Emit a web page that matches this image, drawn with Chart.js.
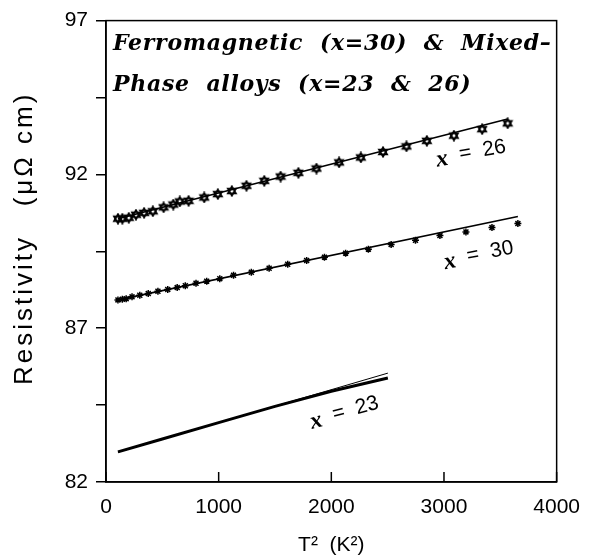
<!DOCTYPE html>
<html>
<head>
<meta charset="utf-8">
<script src="https://cdn.jsdelivr.net/npm/chart.js@4.4.0/dist/chart.umd.min.js"></script>
<style>
  html, body { margin: 0; padding: 0; background: #fff; }
</style>
</head>
<body>
<canvas id="chart" width="593" height="556"></canvas>
<script>
// --- dane ---
// x = 26 (gwiazdki otwarte)
const t2Alloy26  = [106, 145, 202, 266, 338, 416, 511, 597, 655, 733, 872, 993, 1117, 1247, 1405, 1550, 1708, 1868, 2069, 2262, 2459, 2667, 2848, 3088, 3339, 3565];
const rhoAlloy26 = [90.56, 90.56, 90.59, 90.69, 90.75, 90.80, 90.93, 91.02, 91.12, 91.14, 91.25, 91.36, 91.46, 91.63, 91.79, 91.93, 92.05, 92.19, 92.39, 92.55, 92.73, 92.91, 93.09, 93.26, 93.47, 93.66];
const t2Fit26  = [106, 3565];
const rhoFit26 = [90.56, 93.80];

// x = 30 (gwiazdki)
const t2Alloy30  = [106, 145, 179, 231, 300, 375, 461, 548, 632, 704, 799, 894, 1010, 1132, 1290, 1448, 1613, 1781, 1939, 2127, 2329, 2531, 2747, 2964, 3195, 3426, 3656];
const rhoAlloy30 = [87.92, 87.94, 87.96, 88.02, 88.07, 88.13, 88.20, 88.26, 88.32, 88.38, 88.46, 88.53, 88.61, 88.72, 88.82, 88.95, 89.08, 89.20, 89.31, 89.44, 89.57, 89.72, 89.86, 90.01, 90.13, 90.27, 90.40];
const t2Fit30  = [106, 3656];
const rhoFit30 = [87.92, 90.63];

// x = 23 (gruba krzywa + cienka prosta)
const t2Alloy23  = [106, 500, 1000, 1500, 2000, 2502];
const rhoAlloy23 = [82.98, 83.40, 83.93, 84.46, 84.95, 85.38];
const t2Fit23  = [106, 2502];
const rhoFit23 = [82.97, 85.54];

// osie
const xTicks = [0, 1000, 2000, 3000, 4000];
const yTickLabels = [82, 87, 92, 97];

// podpisy krzywych: [tekst liczby, T2, rho, kat]
const curveLabels = [
  ['26', 3238, 92.71, -10],
  ['30', 3307, 89.40, -11],
  ['23', 2113, 84.28, -15]
];

const titleLines = ['Ferromagnetic  (x=30)  &  Mixed\u2013', 'Phase  alloys  (x=23  &  26)'];

const toXY = (xs, ys) => xs.map((x, i) => ({ x: x, y: ys[i] }));

// --- znacznik: heksagram ---
function makeHexagram() {
  const c = document.createElement('canvas');
  c.width = 12; c.height = 12;
  const g = c.getContext('2d');
  g.strokeStyle = '#000';
  g.lineWidth = 1.8;
  const r = 4.6, cx = 6, cy = 6;
  [ -Math.PI / 2, Math.PI / 2 ].forEach(a0 => {
    g.beginPath();
    for (let k = 0; k < 3; k++) {
      const a = a0 + k * 2 * Math.PI / 3;
      const px = cx + r * Math.cos(a), py = cy + r * Math.sin(a);
      if (k === 0) g.moveTo(px, py); else g.lineTo(px, py);
    }
    g.closePath();
    g.stroke();
  });
  return c;
}

// --- rysowanie dodatkow ---
const extrasPlugin = {
  id: 'extras',
  afterDraw(chart) {
    const { ctx, chartArea: a, scales } = chart;
    ctx.save();
    // ramka
    ctx.strokeStyle = '#000';
    ctx.lineWidth = 1.5;
    ctx.strokeRect(a.left, a.top, a.right - a.left, a.bottom - a.top);

    // znaczniki osi X do wewnatrz
    xTicks.forEach(v => {
      const px = scales.x.getPixelForValue(v);
      ctx.beginPath();
      ctx.moveTo(px, a.bottom);
      ctx.lineTo(px, a.bottom - 10);
      ctx.stroke();
    });

    // tytul w obszarze wykresu
    ctx.fillStyle = '#000';
    ctx.font = 'bold italic 22px "DejaVu Serif"';
    ctx.letterSpacing = '0.7px';
    ctx.textAlign = 'left';
    ctx.textBaseline = 'alphabetic';
    ctx.fillText(titleLines[0], a.left + 7, 50);
    ctx.fillText(titleLines[1], a.left + 7, 91);
    ctx.letterSpacing = '0px';

    // tytul osi Y
    ctx.save();
    ctx.translate(25, 0);
    ctx.rotate(-Math.PI / 2);
    ctx.font = '26px "Liberation Sans"';
    ctx.letterSpacing = '3px';
    ctx.textAlign = 'center';
    ctx.textBaseline = 'middle';
    ctx.fillText('Resistivity', -310, 0);
    ctx.fillText('(\u03bc\u03a9 cm)', -149, 0);
    ctx.restore();

    // podpisy krzywych
    curveLabels.forEach(([num, t2, rho, ang]) => {
      const cx = scales.x.getPixelForValue(t2);
      const cy = scales.y.getPixelForValue(rho);
      ctx.save();
      ctx.translate(cx, cy);
      ctx.rotate(ang * Math.PI / 180);
      ctx.textBaseline = 'middle';
      ctx.textAlign = 'left';
      ctx.font = 'bold italic 24px "Liberation Serif"';
      const wx = ctx.measureText('x').width;
      ctx.font = '21px "Liberation Sans"';
      const rest = '  =  ' + num;
      const wr = ctx.measureText(rest).width;
      const x0 = -(wx + wr) / 2;
      ctx.font = 'bold italic 24px "Liberation Serif"';
      ctx.fillText('x', x0, 2);
      ctx.font = '21px "Liberation Sans"';
      ctx.fillText(rest, x0 + wx, 0);
      ctx.restore();
    });
    ctx.restore();
  }
};

const hexagram = makeHexagram();

new Chart(document.getElementById('chart'), {
  type: 'scatter',
  data: {
    datasets: [
      { label: 'x=26 fit', data: toXY(t2Fit26, rhoFit26), showLine: true, borderColor: '#000', borderWidth: 1.6, pointRadius: 0 },
      { label: 'x=26', data: toXY(t2Alloy26, rhoAlloy26), pointStyle: hexagram, pointRadius: 6 },
      { label: 'x=30 fit', data: toXY(t2Fit30, rhoFit30), showLine: true, borderColor: '#000', borderWidth: 1.6, pointRadius: 0 },
      { label: 'x=30', data: toXY(t2Alloy30, rhoAlloy30), pointStyle: 'star', pointRadius: 3.5, borderColor: '#000', borderWidth: 1.5 },
      { label: 'x=23', data: toXY(t2Alloy23, rhoAlloy23), showLine: true, borderColor: '#000', borderWidth: 3, pointRadius: 0 },
      { label: 'x=23 fit', data: toXY(t2Fit23, rhoFit23), showLine: true, borderColor: '#000', borderWidth: 1, pointRadius: 0 }
    ]
  },
  options: {
    responsive: false,
    animation: false,
    devicePixelRatio: 1,
    layout: { padding: { top: 14, right: 25, left: 0, bottom: 0 }, autoPadding: false },
    plugins: { legend: { display: false }, tooltip: { enabled: false } },
    scales: {
      x: {
        type: 'linear',
        min: 0, max: 4000,
        afterFit: s => { s.height = 74; },
        afterBuildTicks: s => { s.ticks = xTicks.map(v => ({ value: v })); },
        grid: { drawOnChartArea: false, drawTicks: false },
        border: { color: '#000', width: 1.5 },
        ticks: {
          color: '#000', padding: 13, maxRotation: 0, autoSkip: false,
          font: { family: '"Liberation Sans"', size: 21 },
          callback: v => String(v)
        },
        title: { display: true, text: 'T\u00b2  (K\u00b2)', color: '#000', align: 'center', font: { family: '"Liberation Sans"', size: 21, lineHeight: 1 }, padding: { top: 0, bottom: 0 } }
      },
      y: {
        type: 'linear',
        min: 82, max: 97,
        afterFit: s => { s.width = 106; },
        ticks: {
          stepSize: 2.5, color: '#000', padding: 8,
          font: { family: '"Liberation Sans"', size: 21 },
          callback: v => yTickLabels.includes(v) ? String(v) : ''
        },
        grid: { drawOnChartArea: false, tickLength: 10, color: '#000', lineWidth: 1.5 },
        border: { color: '#000', width: 1.5 }
      }
    }
  },
  plugins: [extrasPlugin]
});
</script>
</body>
</html>
